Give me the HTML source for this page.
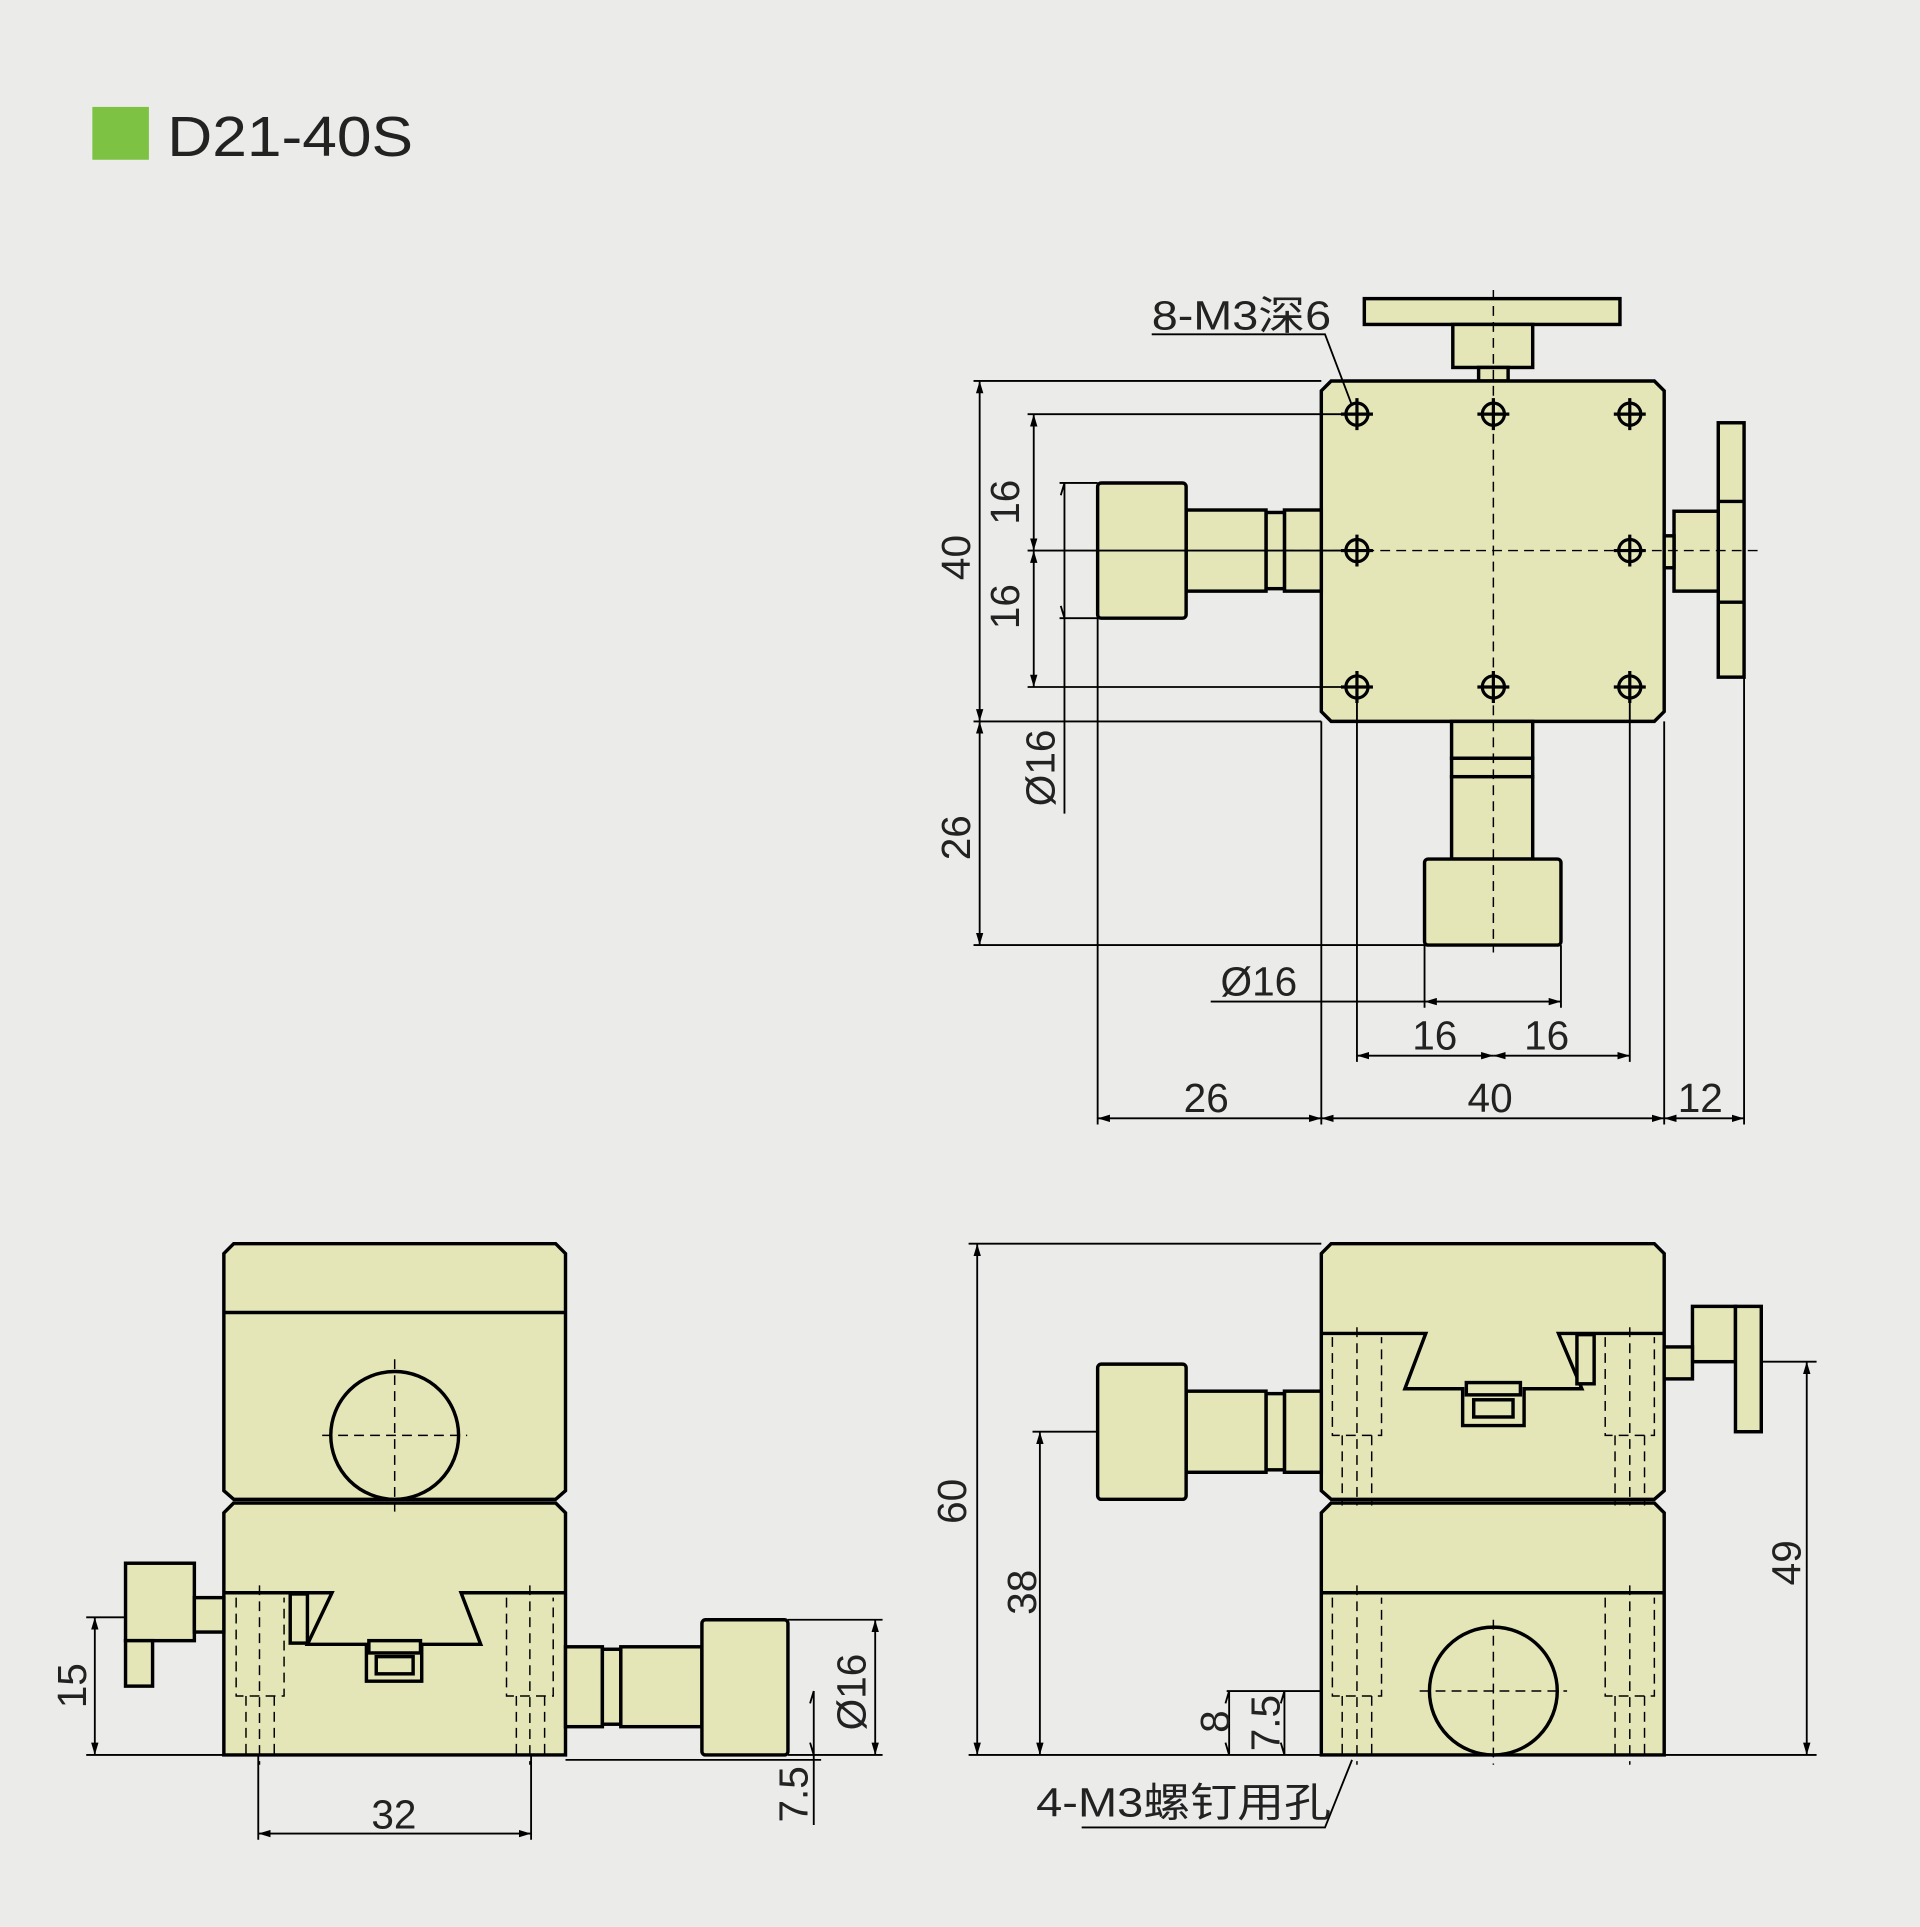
<!DOCTYPE html>
<html><head><meta charset="utf-8"><style>html,body{margin:0;padding:0;background:#ebebe9}svg{display:block}</style></head><body>
<svg width="1920" height="1927" viewBox="0 0 1562 1568" xmlns="http://www.w3.org/2000/svg" font-family="Liberation Sans, Noto Sans CJK SC, sans-serif">
<defs>
<marker id="a" viewBox="0 0 10 6" refX="10" refY="3" markerWidth="10" markerHeight="6" orient="auto-start-reverse" markerUnits="userSpaceOnUse"><path d="M0,0L10,3L0,6z" fill="#000"/></marker>
</defs>
<rect width="1562" height="1568" fill="#ebebe9"/>
<rect x="75" y="87" width="46" height="43" fill="#7dc242"/>
<text x="136" y="127" font-size="46" fill="#222" textLength="200" lengthAdjust="spacingAndGlyphs">D21-40S</text>

<g fill="#e5e6b8" stroke="#000" stroke-width="2.8">
<!-- TOP VIEW -->
<rect x="1110" y="243" width="208" height="21"/>
<rect x="1182" y="264" width="65" height="35"/>
<rect x="1203" y="299" width="24" height="11"/>
<path d="M1083,310H1346L1354,318V579L1346,587H1083L1075,579V318Z"/>
<rect x="1398" y="344" width="21" height="207"/>
<line x1="1398" y1="408" x2="1419" y2="408"/><line x1="1398" y1="490" x2="1419" y2="490"/>
<rect x="1362" y="416" width="36" height="65"/>
<rect x="1354" y="436" width="8" height="26"/>
<rect x="1045" y="415" width="30" height="66"/>
<rect x="1030" y="417" width="15" height="62"/>
<rect x="965" y="415" width="65" height="66"/>
<rect x="893" y="393" width="72" height="110" rx="3"/>
<rect x="1181" y="587" width="66" height="30"/>
<rect x="1181" y="617" width="66" height="15"/>
<rect x="1181" y="632" width="66" height="67"/>
<rect x="1159" y="699" width="111" height="70" rx="3"/>
<!-- SIDE VIEW -->
<path d="M190,1012H452L460,1020V1213L452,1220H190L182,1213V1020Z"/>
<line x1="182" y1="1068" x2="460" y2="1068"/>
<circle cx="321" cy="1168" r="52"/>
<path d="M190,1223H452L460,1231V1428H182V1231Z"/>
<path d="M182,1296H270L250,1338H298V1368H343V1338H391L375,1296H460" fill="none"/>
<rect x="236" y="1297" width="14" height="40"/>
<rect x="300" y="1335" width="42" height="10"/><rect x="306" y="1348" width="30" height="14"/>
<rect x="102" y="1272" width="56" height="63"/>
<rect x="102" y="1335" width="22" height="37"/>
<rect x="158" y="1300" width="24" height="28"/>
<rect x="460" y="1340" width="30" height="65"/>
<rect x="490" y="1342" width="15" height="61"/>
<rect x="505" y="1340" width="66" height="65"/>
<rect x="571" y="1318" width="70" height="110" rx="3"/>
<!-- FRONT VIEW -->
<path d="M1083,1012H1346L1354,1020V1213L1346,1220H1083L1075,1213V1020Z"/>
<path d="M1075,1085H1160L1143,1130H1190V1160H1240V1130H1287L1268,1085H1354" fill="none"/>
<rect x="1283" y="1086" width="14" height="40"/>
<rect x="1193" y="1125" width="44" height="10"/><rect x="1199" y="1139" width="32" height="14"/>
<path d="M1083,1223H1346L1354,1231V1428H1075V1231Z"/>
<line x1="1075" y1="1296" x2="1354" y2="1296"/>
<circle cx="1215" cy="1376" r="52"/>
<rect x="1377" y="1063" width="35" height="45"/>
<rect x="1412" y="1063" width="21" height="102"/>
<rect x="1354" y="1096" width="23" height="26"/>
<rect x="1045" y="1132" width="30" height="66"/>
<rect x="1030" y="1134" width="15" height="62"/>
<rect x="965" y="1132" width="65" height="66"/>
<rect x="893" y="1110" width="72" height="110" rx="3"/>
</g>

<!-- holes -->
<g stroke="#000" stroke-width="2.6" fill="none">
<circle cx="1104" cy="337" r="9"/><circle cx="1215" cy="337" r="9"/><circle cx="1326" cy="337" r="9"/>
<circle cx="1104" cy="448" r="9"/><circle cx="1326" cy="448" r="9"/>
<circle cx="1104" cy="559" r="9"/><circle cx="1215" cy="559" r="9"/><circle cx="1326" cy="559" r="9"/>
<path d="M1091,337h26M1104,324v26M1202,337h26M1215,324v26M1313,337h26M1326,324v26M1091,448h26M1104,435v26M1313,448h26M1326,435v26M1091,559h26M1104,546v26M1202,559h26M1215,546v26M1313,559h26M1326,546v26"/>
</g>

<g stroke="#000" stroke-width="1.2" stroke-dasharray="8,5" fill="none">
<path d="M1215,236V775M1045,448H1430M321,1106V1230M262,1168H380M1215,1318V1436M1155,1376H1275"/>
<path d="M192,1300V1380H231V1300M200,1380V1432M223,1380V1432M211,1290V1436M412,1300V1380H450V1300M420,1380V1432M443,1380V1432M431,1290V1436"/>
<path d="M1084,1088V1168H1124V1088M1092,1168V1225M1116,1168V1225M1104,1080V1225M1306,1088V1168H1346V1088M1314,1168V1225M1338,1168V1225M1326,1080V1225"/>
<path d="M1084,1300V1380H1124V1300M1092,1380V1432M1116,1380V1432M1104,1290V1436M1306,1300V1380H1346V1300M1314,1380V1432M1338,1380V1432M1326,1290V1436"/>
</g>

<g stroke="#000" stroke-width="1.5" fill="none">
<path d="M792,310H1075M792,587H1075M792,769H1159M836,337H1094M836,448H1094M836,559H1094M862,393H893M862,503H893"/>
<path d="M893,503V915M1075,587V915M1354,587V915M1419,551V915M1104,569V864M1326,569V864M1159,769V820M1270,769V820"/>
<path d="M788,1012H1075M840,1165H893M1433,1108H1478M70,1316H102M70,1428H182M641,1318H718M641,1428H718M460,1432H668M210,1428V1497M432,1428V1497M1354,1428H1478M788,1428H1075M998,1376H1075"/>
</g>

<g stroke="#000" stroke-width="1.5" fill="none" marker-start="url(#a)" marker-end="url(#a)">
<line x1="797" y1="310" x2="797" y2="587"/>
<line x1="797" y1="587" x2="797" y2="769"/>
<line x1="841" y1="337" x2="841" y2="448"/>
<line x1="841" y1="448" x2="841" y2="559"/>
<line x1="893" y1="910" x2="1075" y2="910"/>
<line x1="1075" y1="910" x2="1354" y2="910"/>
<line x1="1354" y1="910" x2="1419" y2="910"/>
<line x1="1104" y1="859" x2="1215" y2="859"/>
<line x1="1215" y1="859" x2="1326" y2="859"/>
<line x1="1159" y1="815" x2="1270" y2="815"/>
<line x1="795" y1="1012" x2="795" y2="1428"/>
<line x1="846" y1="1165" x2="846" y2="1428"/>
<line x1="1470" y1="1108" x2="1470" y2="1428"/>
<line x1="77" y1="1316" x2="77" y2="1428"/>
<line x1="210" y1="1492" x2="432" y2="1492"/>
<line x1="712" y1="1318" x2="712" y2="1428"/>
</g>
<g stroke="#000" stroke-width="1.5" fill="none">
<path d="M866,393V662M866,393l-3,10M866,503l-3,-10"/>
<path d="M985,815H1159"/>
<path d="M662,1376V1485M662,1376l-3,10M662,1428l-3,-10"/>
<path d="M1000,1376V1428M1045,1376V1428M1000,1376l-3,10M1000,1428l-3,-10M1045,1376l-3,10M1045,1428l-3,-10"/>
<path d="M937,272H1078L1100,330"/>
<path d="M880,1487H1078L1100,1432"/>
</g>

<g font-size="33" fill="#222">
<text x="937" y="268" textLength="146" lengthAdjust="spacingAndGlyphs">8-M3深6</text>
<text x="843" y="1478" textLength="240" lengthAdjust="spacingAndGlyphs">4-M3螺钉用孔</text>
<text x="993" y="810">Ø16</text>
<text x="1149" y="854">16</text>
<text x="1240" y="854">16</text>
<text x="963" y="905">26</text>
<text x="1194" y="905">40</text>
<text x="1365" y="905">12</text>
<text x="302" y="1488">32</text>
<text transform="translate(789,472) rotate(-90)">40</text>
<text transform="translate(789,700) rotate(-90)">26</text>
<text transform="translate(829,427) rotate(-90)">16</text>
<text transform="translate(829,512) rotate(-90)">16</text>
<text transform="translate(858,656) rotate(-90)">Ø16</text>
<text transform="translate(786,1240) rotate(-90)">60</text>
<text transform="translate(843,1314) rotate(-90)">38</text>
<text transform="translate(1465,1290) rotate(-90)">49</text>
<text transform="translate(1000,1410) rotate(-90)">8</text>
<text transform="translate(1041,1425) rotate(-90)">7.5</text>
<text transform="translate(70,1390) rotate(-90)">15</text>
<text transform="translate(704,1408) rotate(-90)">Ø16</text>
<text transform="translate(657,1483) rotate(-90)">7.5</text>
</g>
</svg>
</body></html>
